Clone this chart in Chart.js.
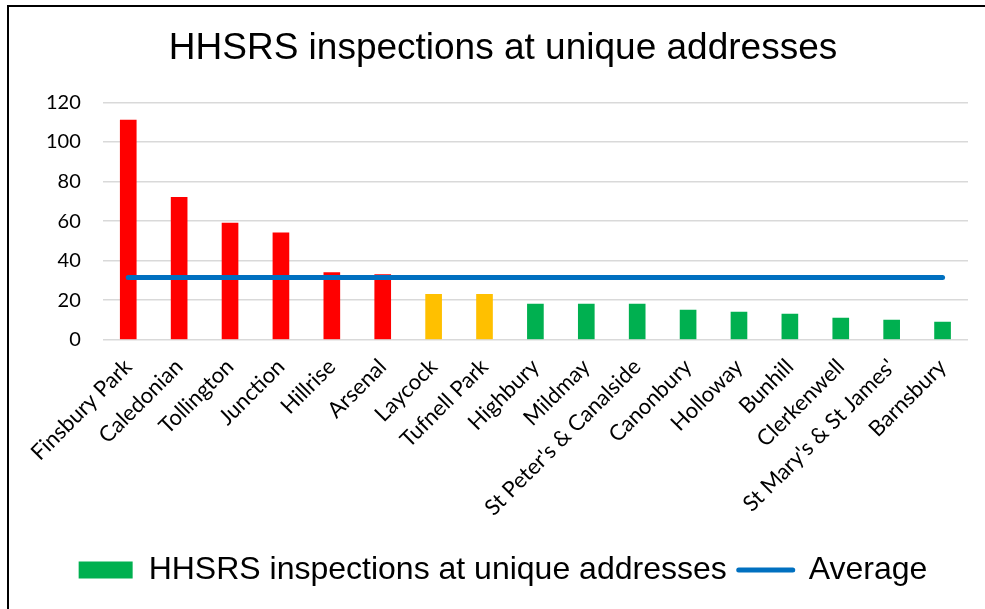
<!DOCTYPE html>
<html>
<head>
<meta charset="utf-8">
<script src="https://cdn.jsdelivr.net/npm/chart.js@4/dist/chart.umd.min.js"></script>
<style>
    html, body { margin: 0; padding: 0; background: #fff; overflow: hidden; }
    #frame { position: absolute; left: 7px; top: 5px; width: 1100px; height: 700px; border: 2px solid #000; }
    #wrap { position: absolute; left: 0; top: 0; width: 1000px; height: 609px; }
</style>
</head>
<body>
<div id="frame"></div>
<div id="wrap"><canvas id="bar-chart"></canvas></div>
<script>
const wards = ['Finsbury Park', 'Caledonian', 'Tollington', 'Junction', 'Hillrise', 'Arsenal', 'Laycock',
    'Tufnell Park', 'Highbury', 'Mildmay', "St Peter's & Canalside", 'Canonbury', 'Holloway', 'Bunhill',
    'Clerkenwell', "St Mary's & St James'", 'Barnsbury'];
const inspections = [111, 72, 59, 54, 34, 33, 23, 23, 18, 18, 18, 15, 14, 13, 11, 10, 9];
const average = [31.5, 31.5, 31.5, 31.5, 31.5, 31.5, 31.5, 31.5, 31.5, 31.5, 31.5, 31.5, 31.5, 31.5, 31.5, 31.5, 31.5];
const barColours = ['#FF0000', '#FF0000', '#FF0000', '#FF0000', '#FF0000', '#FF0000', '#FFC000', '#FFC000',
    '#00B050', '#00B050', '#00B050', '#00B050', '#00B050', '#00B050', '#00B050', '#00B050', '#00B050'];
const yTicks = [0, 20, 40, 60, 80, 100, 120];

const seriesName = 'HHSRS inspections at unique addresses';

function buildChart() {
    const data = {
        labels: wards,
        datasets: [{
            type: 'line',
            label: 'Average',
            data: average,
            borderColor: '#0070C0',
            backgroundColor: '#0070C0',
            borderWidth: 5,
            borderCapStyle: 'round',
            pointRadius: 0,
            order: 0,
        }, {
            type: 'bar',
            label: seriesName,
            data: inspections,
            backgroundColor: barColours,
            barThickness: 16,
            order: 1,
        }]
    };
    const config = {
        data,
        options: {
            responsive: true,
            maintainAspectRatio: false,
            animation: false,
            layout: {
                padding: {left: 24, right: 18, top: 0, bottom: 13},
            },
            plugins: {
                title: {
                    display: true,
                    text: seriesName,
                    color: '#000',
                    font: {family: 'Liberation Sans', size: 37, weight: 'normal'},
                    padding: {top: 27, bottom: 31},
                },
                legend: {
                    position: 'bottom',
                    labels: {
                        color: '#000',
                        font: {family: 'Liberation Sans', size: 32},
                        usePointStyle: true,
                        pointStyleWidth: 54,
                        boxHeight: 17,
                        padding: 12,
                        generateLabels: () => [{
                            text: seriesName,
                            fillStyle: '#00B050',
                            strokeStyle: '#00B050',
                            lineWidth: 0,
                            pointStyle: 'rect',
                            datasetIndex: 1,
                        }, {
                            text: 'Average',
                            fillStyle: '#0070C0',
                            strokeStyle: '#0070C0',
                            lineWidth: 5,
                            lineCap: 'round',
                            pointStyle: 'line',
                            datasetIndex: 0,
                        }],
                    },
                },
                tooltip: {enabled: false},
            },
            scales: {
                x: {
                    offset: true,
                    grid: {display: false, drawTicks: true, tickLength: 14},
                    border: {display: false},
                    afterFit: axis => { axis.height += 21; },
                    ticks: {
                        color: '#000',
                        font: {family: 'Lato', size: 22},
                        minRotation: 45,
                        maxRotation: 45,
                        autoSkip: false,
                        padding: 0,
                    },
                },
                y: {
                    min: yTicks[0],
                    max: yTicks[yTicks.length - 1],
                    afterBuildTicks: axis => {
                        axis.ticks = yTicks.map(v => ({value: v}));
                    },
                    grid: {color: '#D9D9D9', lineWidth: 1.5, drawTicks: false},
                    border: {display: false},
                    ticks: {
                        color: '#000',
                        font: {family: 'Lato', size: 20},
                        padding: 22,
                    },
                },
                // empty right-hand gutter, keeps title and legend centred like the original
                gutter: {
                    type: 'linear',
                    position: 'right',
                    grid: {display: false, drawTicks: false},
                    border: {display: false},
                    ticks: {display: false},
                    afterFit: axis => { axis.width = 14; },
                },
            },
        }
    };
    new Chart(document.getElementById('bar-chart'), config);
}

buildChart();
</script>
</body>
</html>
